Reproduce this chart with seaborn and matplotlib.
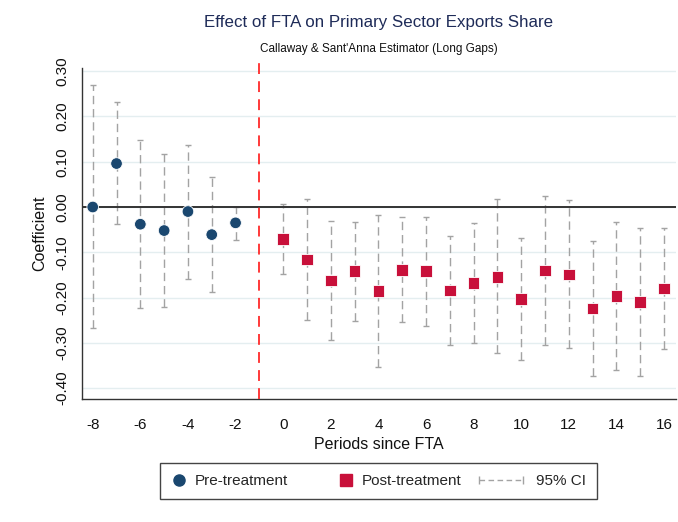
import numpy as np
import pandas as pd
import matplotlib
matplotlib.use("Agg")
import matplotlib.pyplot as plt
import seaborn as sns
from matplotlib.lines import Line2D
from matplotlib.legend_handler import HandlerBase

# Event-study estimates (Callaway & Sant'Anna, long gaps)
pre_periods = [-8, -7, -6, -5, -4, -3, -2]
pre_coef = [0.000, 0.096, -0.038, -0.052, -0.010, -0.061, -0.035]
pre_lower = [-0.268, -0.037, -0.223, -0.220, -0.158, -0.188, -0.072]
pre_upper = [0.269, 0.231, 0.147, 0.117, 0.137, 0.066, 0.001]

post_periods = list(range(0, 17))
post_coef = [-0.071, -0.116, -0.162, -0.142, -0.186, -0.139, -0.142, -0.184,
             -0.168, -0.154, -0.203, -0.140, -0.149, -0.224, -0.197, -0.210, -0.180]
post_lower = [-0.149, -0.249, -0.294, -0.252, -0.354, -0.255, -0.262, -0.305,
              -0.301, -0.322, -0.337, -0.305, -0.312, -0.373, -0.361, -0.373, -0.314]
post_upper = [0.007, 0.018, -0.031, -0.032, -0.018, -0.022, -0.021, -0.063,
              -0.035, 0.017, -0.068, 0.025, 0.015, -0.074, -0.032, -0.046, -0.046]

phase_labels = ["Pre-treatment", "Post-treatment"]
x_ticks = list(range(-8, 17, 2))
y_ticks = [-0.40, -0.30, -0.20, -0.10, 0.00, 0.10, 0.20, 0.30]

NAVY = "#1a476f"
CRIMSON = "#c8103a"
CI_GREY = "#a3a3a3"
TITLE_NAVY = "#1e2b58"
CI_DASH = (0, (6, 3.5))

df = pd.DataFrame({
    "period": pre_periods + post_periods,
    "coef": pre_coef + post_coef,
    "lower": pre_lower + post_lower,
    "upper": pre_upper + post_upper,
    "phase": [phase_labels[0]] * len(pre_periods) + [phase_labels[1]] * len(post_periods),
})

sns.set_style("white")
plt.rcParams["font.family"] = ["Liberation Sans", "DejaVu Sans"]

fig = plt.figure(figsize=(6.78, 5.22), dpi=100)
ax = fig.add_axes([82 / 678, 123 / 522, 594 / 678, 331 / 522])

# horizontal grid at y ticks
for yt in y_ticks:
    ax.axhline(yt, color="#e4eef0", lw=1.0, zorder=0)

# confidence intervals
ci = ax.errorbar(df["period"], df["coef"],
                 yerr=[df["coef"] - df["lower"], df["upper"] - df["coef"]],
                 fmt="none", ecolor=CI_GREY, elinewidth=1.0, capsize=2.3,
                 capthick=1.0, zorder=2)
for lc in ci[2]:
    lc.set_linestyle(CI_DASH)

# reference lines
ax.axhline(0, color="#333333", lw=1.4, zorder=3)
ax.axvline(-1, ymin=0, ymax=1.03, color="#ff2a2a", lw=1.3,
           linestyle=(0, (6, 4)), zorder=3, clip_on=False)

sns.scatterplot(data=df, x="period", y="coef", hue="phase", style="phase",
                hue_order=phase_labels, style_order=phase_labels,
                palette={phase_labels[0]: NAVY, phase_labels[1]: CRIMSON},
                markers={phase_labels[0]: "o", phase_labels[1]: "s"},
                s=70, linewidth=0.6, edgecolor="#ffffff", ax=ax, zorder=4,
                legend=False)

ax.set_xlim(-8.45, 16.5)
ax.set_ylim(-0.424, 0.307)
ax.set_xticks(x_ticks)
ax.set_xticklabels([str(v) for v in x_ticks])
ax.set_yticks(y_ticks)
ax.set_yticklabels([f"{v:.2f}" for v in y_ticks], rotation=90, va="center")
ax.tick_params(axis="both", direction="out", length=4, width=0.9,
               color="#333333", labelsize=11, labelcolor="#111111")
ax.tick_params(axis="y", pad=5)
ax.tick_params(axis="x", pad=10)

for side in ["top", "right"]:
    ax.spines[side].set_visible(False)
for side in ["left", "bottom"]:
    ax.spines[side].set_color("#333333")
    ax.spines[side].set_linewidth(1.0)

ax.set_xlabel("Periods since FTA", fontsize=11.5, color="#111111", labelpad=3)
ax.set_ylabel("Coefficient", fontsize=11.5, color="#111111", labelpad=6)

fig.text(0.559, 1 - 23 / 522, "Effect of FTA on Primary Sector Exports Share",
         ha="center", va="center", fontsize=12.2, color=TITLE_NAVY)
fig.text(0.559, 1 - 49 / 522, "Callaway & Sant'Anna Estimator (Long Gaps)",
         ha="center", va="center", fontsize=8.5, color="#111111")


class CIKeyHandler(HandlerBase):
    """Horizontal dashed interval with end caps, extending left of the key box."""

    def create_artists(self, legend, orig_handle, xdescent, ydescent,
                       width, height, fontsize, trans):
        y = height / 2 - ydescent
        x0 = -xdescent - 24
        x1 = -xdescent + width - 3
        bar = Line2D([x0, x1], [y, y], color=CI_GREY, lw=1.0,
                     linestyle=(0, (4, 2.5)), transform=trans)
        caps = Line2D([x0, x1], [y, y], color=CI_GREY, lw=1.0,
                      linestyle="none", marker="|", markersize=6,
                      markeredgewidth=1.0, transform=trans)
        return [bar, caps]


h_pre = Line2D([], [], marker="o", linestyle="none", color=NAVY, markersize=8)
h_post = Line2D([], [], marker="s", linestyle="none", color=CRIMSON, markersize=8)
h_ci = Line2D([], [], color=CI_GREY)
leg = fig.legend([h_pre, h_post, h_ci], phase_labels + ["95% CI"],
                 handler_map={h_ci: CIKeyHandler()},
                 loc="center", bbox_to_anchor=(378.5 / 678, 1 - 481 / 522),
                 ncol=3, frameon=True, fancybox=False, edgecolor="#444444",
                 framealpha=1, fontsize=11, handletextpad=0.55,
                 columnspacing=3.3, borderpad=0.7, handlelength=1.0)
leg.get_frame().set_linewidth(1.0)

fig.savefig("out.png", dpi=100)
